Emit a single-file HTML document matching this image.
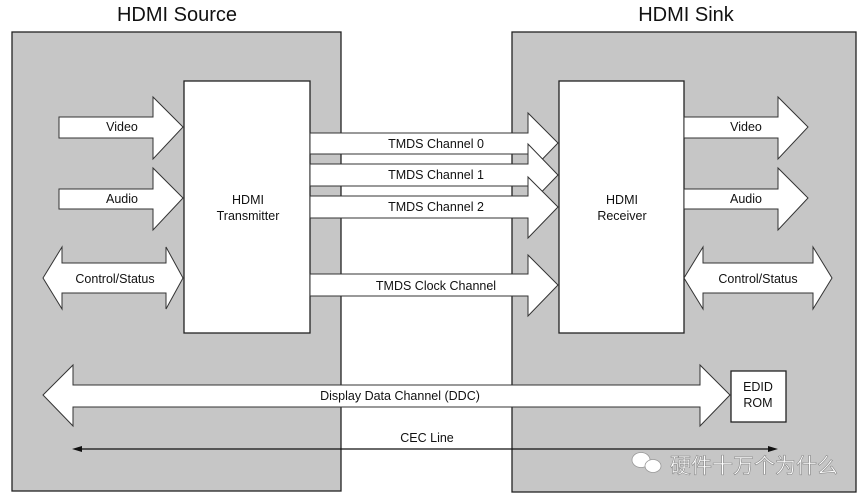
<!DOCTYPE html>
<html><head><meta charset="utf-8"><style>
html,body{margin:0;padding:0;background:#fff;}
svg{display:block;}
text{font-family:"Liberation Sans",Arial,sans-serif;fill:#111;}
</style></head><body>
<svg width="868" height="502" viewBox="0 0 868 502" xmlns="http://www.w3.org/2000/svg">
<g stroke="#222" stroke-width="1.3">
<rect x="12" y="32" width="329" height="459" fill="#c6c6c6"/>
<rect x="512" y="32" width="344" height="460" fill="#c6c6c6"/>
<rect x="184" y="81" width="126" height="252" fill="#fff"/>
<rect x="559" y="81" width="125" height="252" fill="#fff"/>
</g>
<g stroke="#333" stroke-width="1" fill="#fff">
<polygon points="59,117 153,117 153,97 183,127 153,159 153,138 59,138"/>
<polygon points="59,189 153,189 153,168 183,198 153,230 153,209 59,209"/>
<polygon points="43,278 62,247 62,263 166,263 166,247 183,278 166,309 166,293 62,293 62,309"/>
<polygon points="684,117 778,117 778,97 808,127 778,159 778,138 684,138"/>
<polygon points="684,189 778,189 778,168 808,198 778,230 778,209 684,209"/>
<polygon points="684,278 703,247 703,263 813,263 813,247 832,278 813,309 813,293 703,293 703,309"/>
<polygon points="310,133 528,133 528,113 558,143 528,174 528,154 310,154"/>
<polygon points="310,164 528,164 528,144 558,175 528,206 528,186 310,186"/>
<polygon points="310,196 528,196 528,177 558,207 528,238 528,218 310,218"/>
<polygon points="310,274 528,274 528,255 558,285 528,316 528,296 310,296"/>
<polygon points="43,395 73,365 73,385 700,385 700,365 730,395 700,426 700,407 73,407 73,426"/>
</g>
<rect x="731" y="371" width="55" height="51" fill="#fff" stroke="#222" stroke-width="1.3"/>
<line x1="80" y1="449" x2="772" y2="449" stroke="#111" stroke-width="1.2"/>
<polygon points="72,449 82,446 82,452" fill="#111"/>
<polygon points="778,449 768,446 768,452" fill="#111"/>
<g font-size="12.5">
<text x="122" y="131" text-anchor="middle">Video</text>
<text x="122" y="203" text-anchor="middle">Audio</text>
<text x="115" y="283" text-anchor="middle">Control/Status</text>
<text x="746" y="131" text-anchor="middle">Video</text>
<text x="746" y="203" text-anchor="middle">Audio</text>
<text x="758" y="283" text-anchor="middle">Control/Status</text>
<text x="248" y="204" text-anchor="middle">HDMI</text>
<text x="248" y="220" text-anchor="middle">Transmitter</text>
<text x="622" y="204" text-anchor="middle">HDMI</text>
<text x="622" y="220" text-anchor="middle">Receiver</text>
<text x="436" y="148" text-anchor="middle">TMDS Channel 0</text>
<text x="436" y="179" text-anchor="middle">TMDS Channel 1</text>
<text x="436" y="211" text-anchor="middle">TMDS Channel 2</text>
<text x="436" y="290" text-anchor="middle">TMDS Clock Channel</text>
<text x="400" y="400" text-anchor="middle">Display Data Channel (DDC)</text>
<text x="758" y="391" text-anchor="middle">EDID</text>
<text x="758" y="407" text-anchor="middle">ROM</text>
<text x="427" y="442" text-anchor="middle">CEC Line</text>
</g>
<text x="177" y="21" font-size="20" text-anchor="middle">HDMI Source</text>
<text x="686" y="21" font-size="20" text-anchor="middle">HDMI Sink</text>
<g fill="#fff" stroke="#999" stroke-width="0.8">
<ellipse cx="641" cy="460" rx="9" ry="7.5"/>
<ellipse cx="653" cy="466" rx="8" ry="6.5"/>
</g>
<text x="670" y="473" font-size="21" style="font-family:'Liberation Sans','Noto Sans CJK SC',sans-serif;fill:#fff;stroke:#888;stroke-width:0.6">硬件十万个为什么</text>
</svg>
</body></html>
